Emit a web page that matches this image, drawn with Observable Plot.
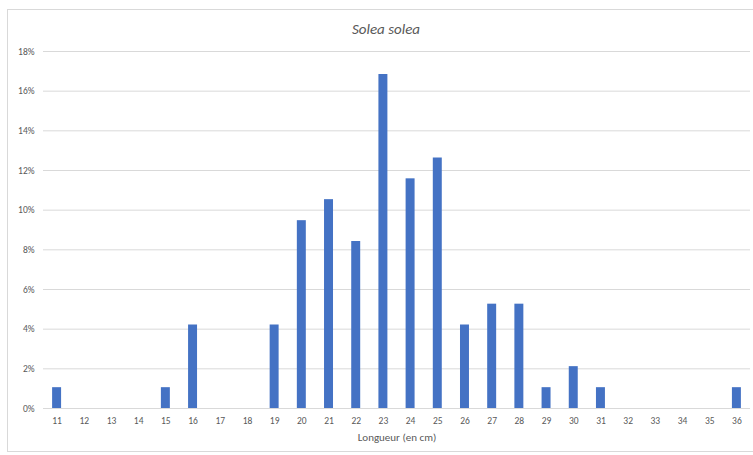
<!DOCTYPE html>
<html><head><meta charset="utf-8">
<script src="https://cdn.jsdelivr.net/npm/d3@7"></script>
<script src="https://cdn.jsdelivr.net/npm/@observablehq/plot@0.6"></script>
<style>
body{margin:0;background:#fff;font-family:Carlito,"Liberation Sans",sans-serif;}
#wrap{position:relative;width:753px;height:455px;overflow:hidden;background:#fff;}
#frame{position:absolute;left:7px;top:9px;width:770px;height:443px;border:1px solid #d9d9d9;box-sizing:border-box;}
#title{position:absolute;left:8px;width:756px;top:20px;text-align:center;font-style:italic;font-size:15px;color:#595959;}
#chart{position:absolute;left:0;top:0;}
</style></head><body>
<div id="wrap"><div id="frame"></div><div id="title">Solea solea</div><div id="chart"></div></div>
<script>
const lengths = ["11","12","13","14","15","16","17","18","19","20","21","22","23","24","25","26","27","28","29","30","31","32","33","34","35","36"];
const percents = [1.05,0,0,0,1.05,4.21,0,0,4.21,9.47,10.53,8.42,16.84,11.58,12.63,4.21,5.26,5.26,1.05,2.11,1.05,0,0,0,0,1.05];
const yTicks = [0,2,4,6,8,10,12,14,16,18];
const xLabel = "Longueur (en cm)";

const data = lengths.map((l,i)=>({len:l, pct:percents[i]}));
const chart = Plot.plot({
  width:753, height:455,
  marginLeft:43, marginRight:3, marginTop:51, marginBottom:47,
  style:{fontFamily:'Carlito,"Liberation Sans",sans-serif', fontSize:"9.5px", color:"#595959", background:"transparent"},
  x:{domain:lengths, paddingInner:0.67, paddingOuter:0.335, round:false, label:null, tickSize:0, tickPadding:9},
  y:{domain:[0,18], ticks:yTicks, tickFormat:d=>d+"%", label:null, tickSize:0, tickPadding:9},
  marks:[
    Plot.ruleY(yTicks, {stroke:"#d9d9d9", strokeWidth:1}),
    Plot.barY(data, {x:"len", y:"pct", fill:"#4472C4"}),
    Plot.text([xLabel], {frameAnchor:"bottom", dy:32, text:d=>d, fontSize:11, fill:"#595959"})
  ]
});
document.getElementById("chart").appendChild(chart);
</script></body></html>
